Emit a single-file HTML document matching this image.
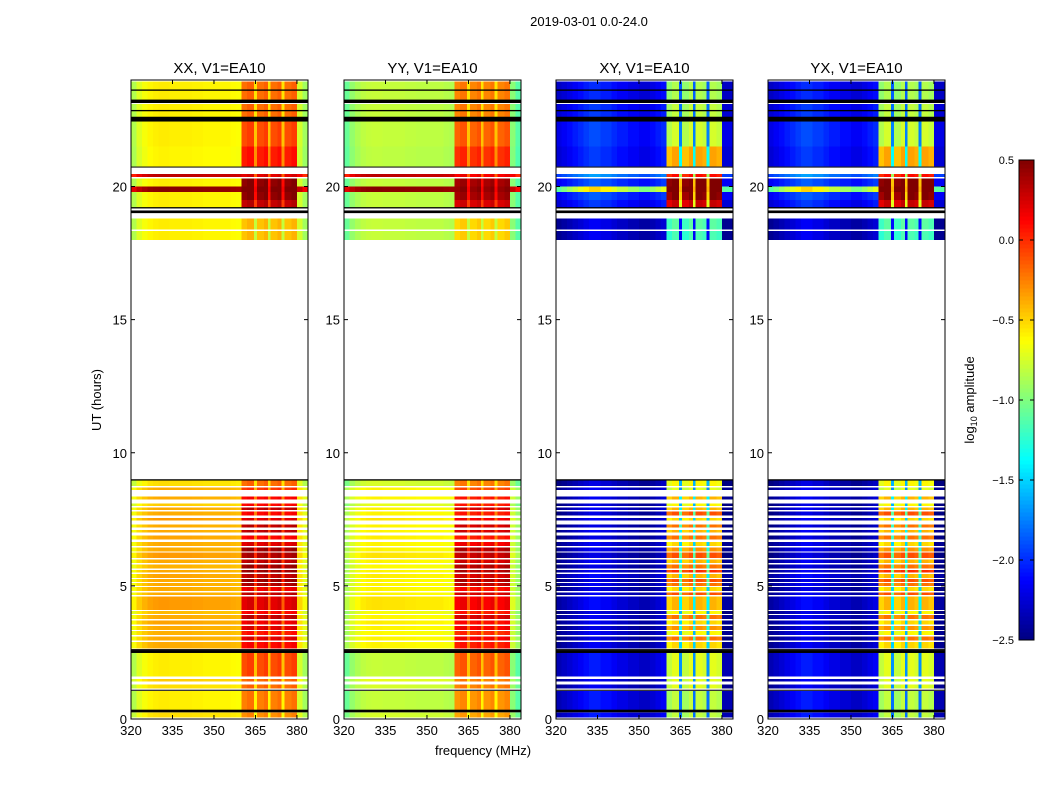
<!DOCTYPE html>
<html><head><meta charset="utf-8">
<style>
body{margin:0;background:#fff;}
svg{display:block;font-family:"Liberation Sans","DejaVu Sans",sans-serif;}
</style></head>
<body>
<svg id="fig" width="1050" height="800" viewBox="0 0 1050 800">
<rect width="1050" height="800" fill="#fff"/>
<text x="589" y="26" font-size="13" text-anchor="middle">2019-03-01 0.0-24.0</text>
<text x="483" y="755" font-size="13" text-anchor="middle">frequency (MHz)</text>
<text transform="translate(101,400) rotate(-90)" font-size="13" text-anchor="middle">UT (hours)</text>
<g id="panels"></g>
<g id="cbar"></g>
<text transform="translate(974,400) rotate(-90)" font-size="13" text-anchor="middle">log<tspan font-size="9" dy="3">10</tspan><tspan dy="-3"> amplitude</tspan></text>
</svg>
<script>
// ---- data ----
const panelTitles = ["XX, V1=EA10","YY, V1=EA10","XY, V1=EA10","YX, V1=EA10"];
const xTicks = [320,335,350,365,380];
const yTicks = [0,5,10,15,20];
const cbarTicks = [0.5,0.0,-0.5,-1.0,-1.5,-2.0,-2.5];
const cbarLabels = ["0.5","0.0","\u22120.5","\u22121.0","\u22121.5","\u22122.0","\u22122.5"];
const chanStart = [320,322,324,326,328,330,332,334,336,338,340,342,344,346,348,350,352,354,356,358, 360,362,364.5,365.5,368,369.5,370.5,373,374.5,375.5,378,380,382];
const chanEnd   = [322,324,326,328,330,332,334,336,338,340,342,344,346,348,350,352,354,356,358,360, 362,364.5,365.5,368,369.5,370.5,373,374.5,375.5,378,380,382,384];
const parShape = [-0.25,-0.12,-0.05,0,0.02,0.03,0.03,0.02,0.02,0.02,0.02,0.01,0.01,0,0,0,0,0,-0.02,-0.03, 0,0.05,-0.2,0,0.05,-0.15,0,0.05,-0.15,0,0.05,-0.15,-0.3];
const subFlag  = [0,0,0,0,0,0,0,0,0,0,0,0,0,0,0,0,0,0,0,0, 1,1,0,1,1,0,1,1,0,1,1,0,0];
const gapFlag  = [0,0,0,0,0,0,0,0,0,0,0,0,0,0,0,0,0,0,0,0, 0,0,1,0,0,1,0,0,1,0,0,0,0];
const crsShape = [-0.05,0,0.05,0.1,0.15,0.2,0.25,0.25,0.2,0.2,0.15,0.1,0.1,0.05,0.05,0,0,0.05,0.1,0.15, 0,0.1,0,0,0.1,0,0.1,0.05,0,0.1,0.05,-0.05,-0.05];
const rowStart = [0.05,0.32,1.15,1.4,1.6, 2.65,2.95,3.15,3.35,3.55,3.75,3.95,4.1,4.65,4.8,5.0,5.15,5.3,5.5,5.65,5.85,6.05,6.3,6.5,6.75,7.0,7.2,7.45,7.65,7.85,8.0,8.25,8.6,8.75, 18.0,18.38, 19.2,19.5,19.8,20.0,20.35, 20.75,21.5,22.6,23.25];
const rowEnd   = [0.25,1.05,1.3,1.5,2.5, 2.9,3.1,3.3,3.5,3.7,3.9,4.05,4.6,4.75,4.95,5.1,5.25,5.45,5.6,5.8,6.0,6.25,6.45,6.65,6.9,7.1,7.3,7.55,7.8,7.95,8.1,8.35,8.7,9.0, 18.32,18.8, 19.5,19.8,20.0,20.3,20.47, 21.5,22.45,23.1,23.95];
const parBase  = [-0.55,-0.6,-0.55,-0.5,-0.6, -0.4,-0.4,-0.42,-0.4,-0.38,-0.4,-0.45,-0.35,-0.4,-0.4,-0.4,-0.4,-0.38,-0.4,-0.42,-0.4,-0.35,-0.4,-0.4,-0.38,-0.4,-0.4,-0.35,-0.4,-0.4,-0.5,-0.4,-0.4,-0.55, -0.6,-0.6, -0.6,-0.6,0.45,-0.6,0.3, -0.62,-0.6,-0.6,-0.6];
const parSub   = [-0.3,-0.25,-0.2,-0.2,-0.1, 0.1,0.2,0.05,0.2,0.15,0.3,0.1,0.2,0.3,0.15,0.35,0.4,0.3,0.4,0.4,0.3,0.35,0.4,0.2,0.1,0.3,0.3,0.2,0.1,0.3,0.1,0.1,-0.05,-0.2, -0.45,-0.45, 0.3,0.45,0.5,0.45,0.2, 0.05,-0.1,-0.2,-0.2];
const crsBase  = [-2.3,-2.3,-2.4,-2.4,-2.3, -2.4,-2.45,-2.4,-2.45,-2.4,-2.4,-2.45,-2.35,-2.4,-2.45,-2.4,-2.45,-2.35,-2.4,-2.45,-2.4,-2.45,-2.4,-2.4,-2.45,-2.4,-2.45,-2.4,-2.45,-2.4,-2.45,-2.4,-2.4,-2.45, -2.4,-2.4, -2.2,-2.1,-1.0,-2.1,-1.9, -2.2,-2.15,-2.2,-2.25];
const crsSub   = [-0.9,-0.9,-0.8,-0.8,-0.8, -0.6,-0.3,-0.7,-0.4,-0.6,-0.3,-0.7,-0.5,-0.2,-0.6,-0.3,-0.2,-0.5,-0.1,-0.3,-0.5,-0.2,-0.4,-0.6,-0.3,-0.5,-0.3,-0.6,-0.2,-0.5,-0.7,-0.5,-0.8,-0.7, -1.25,-1.2, 0.2,0.4,0.5,0.45,0.0, -0.45,-0.85,-0.9,-0.95];
const flagTime = [0.3,1.08,2.53,2.6,8.98,19.05,19.2,20.73,22.53,22.85,23.2,23.62];
const flagThick= [0.1,0.04,0.1,0.05,0.05,0.1,0.05,0.03,0.18,0.05,0.13,0.05];

// ---- layout ----
const panelX = [131,344,556,768], panelW = 177, plotTop = 80, plotBot = 719;
const fMin = 320, fMax = 384, tMin = 0, tMax = 24;
const cbX = 1019, cbW = 15, cbTop = 160, cbBot = 640, vMin = -2.5, vMax = 0.5;
const NS = "http://www.w3.org/2000/svg";
function yT(t){ return plotBot - (t - tMin) / (tMax - tMin) * (plotBot - plotTop); }
function xF(p, f){ return panelX[p] + (f - fMin) / (fMax - fMin) * panelW; }
function jet(v){
  let x = (v - vMin) / (vMax - vMin); x = Math.max(0, Math.min(1, x));
  const c = t => Math.round(255 * Math.max(0, Math.min(1, t)));
  return `rgb(${c(1.5 - Math.abs(4*x - 3))},${c(1.5 - Math.abs(4*x - 2))},${c(1.5 - Math.abs(4*x - 1))})`;
}
function mk(tag, attrs, parent){ const e = document.createElementNS(NS, tag); for (const k in attrs) e.setAttribute(k, attrs[k]); parent.appendChild(e); return e; }
function value(p, c, r){
  if (p < 2) {
    const yy = p === 1 ? -0.22 : 0;
    if (subFlag[c]) return parSub[r] + parShape[c] + yy * 0.3;
    if (gapFlag[c]) return parSub[r] - 0.35;
    return parBase[r] + parShape[c] + yy * (parBase[r] > 0 ? 0 : 1);
  } else {
    if (subFlag[c]) return crsSub[r] + crsShape[c];
    if (gapFlag[c]) return crsSub[r] - 0.9;
    return crsBase[r] + crsShape[c] * (crsBase[r] > -1.5 ? 2 : 1);
  }
}
const panels = document.getElementById('panels');
for (let p = 0; p < 4; p++) {
  const g = mk('g', {}, panels);
  
  
  const hm = mk('g', {'shape-rendering':'crispEdges'}, g);
  
  
  for (let r = 0; r < rowStart.length; r++) {
    const y0 = yT(rowEnd[r]), y1 = yT(rowStart[r]);
    for (let c = 0; c < chanStart.length; c++) {
      const x0 = xF(p, chanStart[c]), x1 = xF(p, chanEnd[c]);
      const rc = mk('rect', {x:x0, y:y0, width:x1 - x0 + 0.3, height:y1 - y0, fill:jet(value(p, c, r))}, hm);
      
      
    }
  }
  for (let i = 0; i < flagTime.length; i++) {
    const h = Math.max(1, flagThick[i] * (plotBot - plotTop) / 24);
    const fl = mk('rect', {x:panelX[p], y:yT(flagTime[i]) - h/2, width:panelW, height:h, fill:'#000'}, g);
    
    
  }
  const fr = mk('rect', {x:panelX[p], y:plotTop, width:panelW, height:plotBot - plotTop, fill:'none', stroke:'#000', 'stroke-width':1}, g);
  
  
  const tt = mk('text', {x:panelX[p] + panelW/2, y:73, 'font-size':15, 'text-anchor':'middle'}, g);
  tt.textContent = panelTitles[p];
  
  
  xTicks.forEach(f => {
    const x = xF(p, f);
    mk('line', {x1:x, x2:x, y1:plotBot, y2:plotBot - 4, stroke:'#000'}, g);
    mk('line', {x1:x, x2:x, y1:plotTop, y2:plotTop + 4, stroke:'#000'}, g);
    const tl = mk('text', {x:x, y:plotBot + 16, 'font-size':13, 'text-anchor':'middle'}, g);
    tl.textContent = f;
    
    
  });
  yTicks.forEach(t => {
    const y = yT(t);
    mk('line', {x1:panelX[p], x2:panelX[p] + 4, y1:y, y2:y, stroke:'#000'}, g);
    mk('line', {x1:panelX[p] + panelW, x2:panelX[p] + panelW - 4, y1:y, y2:y, stroke:'#000'}, g);
    const tl = mk('text', {x:panelX[p] - 4, y:y + 5, 'font-size':13, 'text-anchor':'end'}, g);
    tl.textContent = t;
    
    
  });
}
const cb = document.getElementById('cbar');
const N = 120;
for (let i = 0; i < N; i++) {
  const v = vMin + (i + 0.5) / N * (vMax - vMin);
  const h = (cbBot - cbTop) / N;
  const seg = mk('rect', {x:cbX, y:cbBot - (i + 1) * h, width:cbW, height:h + 0.4, fill:jet(v), 'shape-rendering':'crispEdges'}, cb);
  
  
}
mk('rect', {x:cbX, y:cbTop, width:cbW, height:cbBot - cbTop, fill:'none', stroke:'#000'}, cb);
cbarTicks.forEach((v, i) => {
  const y = cbBot - (v - vMin) / (vMax - vMin) * (cbBot - cbTop);
  mk('line', {x1:cbX + cbW, x2:cbX + cbW - 4, y1:y, y2:y, stroke:'#000'}, cb);
  mk('line', {x1:cbX, x2:cbX + 4, y1:y, y2:y, stroke:'#000'}, cb);
  const tl = mk('text', {x:cbX - 5, y:y + 4, 'font-size':11, 'text-anchor':'end'}, cb);
  tl.textContent = cbarLabels[i];
  
  
});
</script>
</body></html>
